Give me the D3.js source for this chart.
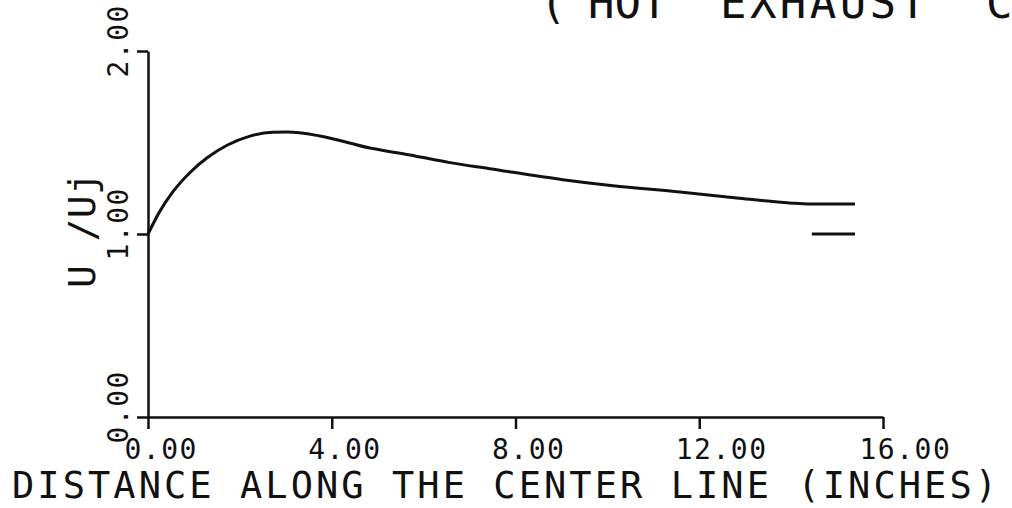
<!DOCTYPE html>
<meta charset="utf-8">
<style>
body { margin: 0; background: #fff; }
svg { display: block; }
.axis path, .axis line { stroke: #111; stroke-width: 2.5px; }
.axis text { font-family: "DejaVu Sans Mono", monospace; font-size: 28px; fill: #111; letter-spacing: 1.5px; }
.label { font-family: "DejaVu Sans Mono", monospace; fill: #111; }
.curve { fill: none; stroke: #111; stroke-width: 3px; }
</style>
<body>
<script src="https://cdn.jsdelivr.net/npm/d3@7"></script>
<script>
// velocity ratio along the center line
var distance = [0, 0.26, 0.54, 0.91, 1.28, 1.72, 2.22, 2.72, 3.03, 3.74, 4.83, 5.70, 6.57, 7.44, 9.03, 10.12, 11.58, 12.82, 13.97, 14.41, 15.39];
var ratio    = [1.0, 1.125, 1.23, 1.335, 1.415, 1.485, 1.535, 1.556, 1.557, 1.536, 1.47, 1.432, 1.39, 1.357, 1.297, 1.264, 1.23, 1.197, 1.17, 1.164, 1.164];
// short reference mark at U/Uj = 1
var refDistance = [14.45, 15.39];
var refRatio    = [1.0, 1.0];

var xTicks = [0, 4, 8, 12, 16];
var yTicks = [0, 1, 2];

var width = 1012, height = 508;

var x = d3.scaleLinear().domain([0, 16]).range([148, 883]);
var y = d3.scaleLinear().domain([0, 2]).range([417, 51]);

var svg = d3.select("body").append("svg")
    .attr("width", width)
    .attr("height", height);

// x axis, labels start left of the tick like the plotter did
var xAxis = svg.append("g")
    .attr("class", "axis")
    .attr("transform", "translate(0," + y(0) + ")")
    .call(d3.axisBottom(x).tickValues(xTicks).tickSizeInner(12).tickSizeOuter(0).tickFormat(d3.format(".2f")));
xAxis.selectAll("text")
    .attr("text-anchor", "start")
    .attr("x", -24)
    .attr("y", 42)
    .attr("dy", 0);

// y axis, labels rotated with the decimal point on the tick
var yAxis = svg.append("g")
    .attr("class", "axis")
    .attr("transform", "translate(" + x(0) + ",0)")
    .call(d3.axisLeft(y).tickValues(yTicks).tickSizeInner(11).tickSizeOuter(0).tickFormat(d3.format(".2f")));
yAxis.selectAll("text")
    .attr("text-anchor", "start")
    .attr("x", 0)
    .attr("y", 0)
    .attr("dy", 0)
    .attr("transform", "translate(-20,26) rotate(-90)");

var line = d3.line()
    .x(function(d) { return x(d[0]); })
    .y(function(d) { return y(d[1]); })
    .curve(d3.curveMonotoneX);

svg.append("path")
    .attr("class", "curve")
    .attr("d", line(d3.zip(distance, ratio)));

svg.append("path")
    .attr("class", "curve")
    .attr("d", line(d3.zip(refDistance, refRatio)));

// axis titles
svg.append("text")
    .attr("class", "label")
    .attr("x", 12)
    .attr("y", 498)
    .attr("textLength", 985)
    .attr("lengthAdjust", "spacing")
    .style("font-size", "37px")
    .text("DISTANCE ALONG THE CENTER LINE (INCHES)");

svg.append("text")
    .attr("class", "label")
    .attr("transform", "translate(95,288) rotate(-90)")
    .attr("textLength", 116)
    .attr("lengthAdjust", "spacing")
    .style("font-size", "38px")
    .text("U /Uj");

// title, cut off at the top of the scan
var title = svg.append("text")
    .attr("class", "label")
    .attr("y", 18)
    .style("font-size", "44px");
title.append("tspan").attr("x", 540).text("(");
title.append("tspan").attr("x", 588).text("HOT");
title.append("tspan").attr("x", 720).attr("textLength", 206).attr("lengthAdjust", "spacing").text("EXHAUST");
title.append("tspan").attr("x", 986).text("C");
</script>
</body>
